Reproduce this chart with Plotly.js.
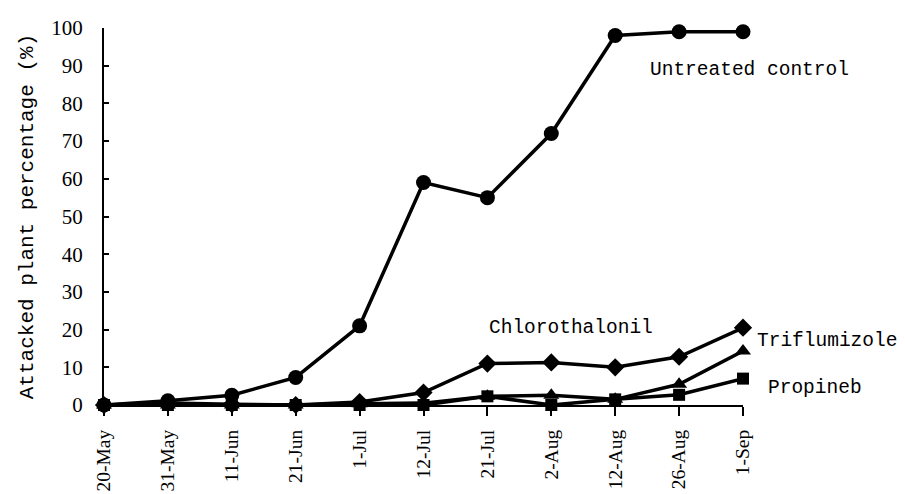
<!DOCTYPE html>
<html>
<head>
<meta charset="utf-8">
<script src="https://cdn.plot.ly/plotly-3.0.1.min.js"></script>
<style>html,body{margin:0;padding:0;background:#fff;}</style>
</head>
<body>
<div id="chart" style="width:905px;height:494px;"></div>
<script>
const dates = ["20-May","31-May","11-Jun","21-Jun","1-Jul","12-Jul","21-Jul","2-Aug","12-Aug","26-Aug","1-Sep"];
const untreated = [0, 1.1, 2.6, 7.3, 21, 59, 55, 72, 98, 99, 99];
const triflumizole = [0, 0.5, 0.2, 0, 0.8, 3.3, 11, 11.3, 10, 12.8, 20.5];
const chlorothalonil = [0, 0, 0, 0, 0.3, 0.5, 2.3, 2.6, 1.5, 5.5, 14.3];
const propineb = [0, 0, 0, 0, 0, 0, 2.3, 0, 1.5, 2.7, 7];
const seriesNames = ["Untreated control", "Triflumizole", "Chlorothalonil", "Propineb"];
const labelText = ["Untreated control", "Chlorothalonil", "Triflumizole", "Propineb"];

const mono = "Liberation Mono, DejaVu Sans Mono, monospace";
const serif = "Liberation Serif, Times New Roman, serif";

function tr(y, name, symbol, size) {
  return {
    x: dates, y: y, name: name, type: "scatter", mode: "lines+markers",
    cliponaxis: false,
    line: {color: "#000", width: 3.5},
    marker: {color: "#000", symbol: symbol, size: size}
  };
}

const data = [
  tr(propineb, seriesNames[3], "square", 12),
  tr(chlorothalonil, seriesNames[2], "triangle-up", 14),
  tr(triflumizole, seriesNames[1], "diamond", 14),
  tr(untreated, seriesNames[0], "circle", 15)
];

const layout = {
  width: 905, height: 494,
  margin: {l: 104, r: 162, t: 28, b: 89},
  paper_bgcolor: "#fff", plot_bgcolor: "#fff",
  showlegend: false,
  font: {family: serif, color: "#000"},
  xaxis: {
    type: "category", range: [0, 10],
    showline: true, linecolor: "#000", linewidth: 2,
    ticks: "outside", ticklen: 9, tickwidth: 2, tickcolor: "#000",
    tickangle: -90, tickfont: {family: serif, size: 19.5},
    ticklabelstandoff: 6,
    showgrid: false, zeroline: false
  },
  yaxis: {
    range: [0, 100], dtick: 10,
    showline: true, linecolor: "#000", linewidth: 2,
    ticks: "inside", ticklen: 5, tickwidth: 2, tickcolor: "#000",
    tickfont: {family: serif, size: 21},
    ticklabelstandoff: 15,
    showgrid: false, zeroline: false,
    title: {text: "Attacked plant percentage (%)", font: {family: mono, size: 21}, standoff: 12}
  },
  annotations: [
    {x: 0.851, y: 0.889, text: labelText[0]},
    {x: 0.599, y: 0.204, text: labelText[1]},
    {x: 1.018, y: 0.170, text: labelText[2]},
    {x: 1.036, y: 0.045, text: labelText[3]}
  ].map(a => Object.assign(a, {
    xref: "paper", yref: "paper", xanchor: "left", yanchor: "middle",
    showarrow: false, font: {family: mono, size: 19.5, color: "#000"}
  }))
};

Plotly.newPlot("chart", data, layout, {staticPlot: true, displayModeBar: false});
</script>
</body>
</html>
